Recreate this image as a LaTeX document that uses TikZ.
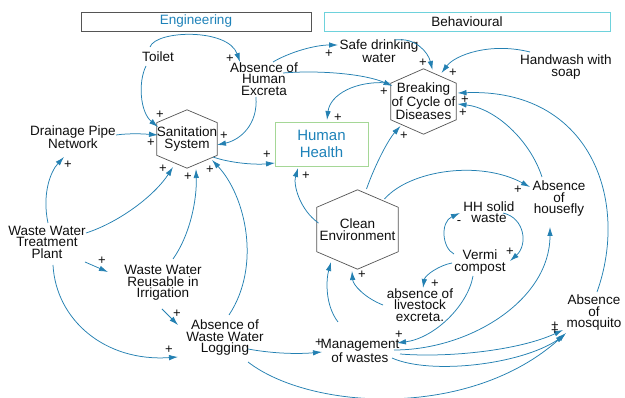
\documentclass[tikz,border=0pt]{standalone}
\usepackage{fontspec}
\setmainfont{Liberation Sans}
\usetikzlibrary{arrows.meta,calc}

\definecolor{linkblue}{RGB}{35,128,178}
\definecolor{hexgray}{RGB}{85,85,85}
\definecolor{engblue}{RGB}{30,130,185}
\definecolor{behcyan}{RGB}{110,210,220}
\definecolor{hhgreen}{RGB}{165,215,150}

\tikzset{
  lbl/.style={align=center, inner sep=0pt, text=black!94,
              font=\fontsize{13.5}{11.5}\selectfont},
  link/.style={draw=linkblue, line width=0.75pt,
               -{Latex[length=9pt,width=5.5pt,fill=linkblue]}},
  pol/.style={inner sep=0pt, text=black!94, font=\fontsize{13}{13}\selectfont},
  hexline/.style={draw=hexgray, line width=0.7pt},
}

% hexagon outline drawn around a rectangular node
\newcommand\hexoutline[1]{%
  \draw[hexline] (#1.north)
    -- ($(#1.north east)!0.22!(#1.south east)$)
    -- ($(#1.north east)!0.78!(#1.south east)$)
    -- (#1.south)
    -- ($(#1.north west)!0.78!(#1.south west)$)
    -- ($(#1.north west)!0.22!(#1.south west)$)
    -- cycle;}

\begin{document}
\begin{tikzpicture}[x=1pt,y=-1pt]
\useasboundingbox[fill=white] (0,0) rectangle (625,398);

% group headers
\node[lbl, draw=hexgray, line width=0.8pt, minimum width=230pt, minimum height=19pt, text=engblue] (eng) at (196,21.5) {Engineering};
\node[lbl, draw=behcyan, line width=0.8pt, minimum width=286pt, minimum height=19pt] (beh) at (467,21.5) {Behavioural};

% variables
\node[lbl] (toilet) at (158,57) {Toilet};
\node[lbl] (ahe) at (264,79) {Absence of\\Human\\Excreta};
\node[lbl] (safe) at (379,51) {Safe drinking\\water};
\node[lbl] (hand) at (566,67) {Handwash with\\soap};
\node[lbl, minimum width=65pt, minimum height=65pt] (bcd) at (423.5,101.5) {Breaking\\of Cycle of\\Diseases};
\node[lbl, draw=hhgreen, line width=0.8pt, minimum width=93pt, minimum height=44pt,
      font=\fontsize{15}{17}\selectfont, text=engblue] (hh) at (321.5,144) {Human\\Health};
\node[lbl, minimum width=60pt, minimum height=58pt] (san) at (187,139) {Sanitation\\System};
\node[lbl] (drain) at (73,137) {Drainage Pipe\\Network};
\node[lbl] (wwtp) at (47,242) {Waste Water\\Treatment\\Plant};
\node[lbl] (reuse) at (163,283) {Waste Water\\Reusable in\\Irrigation};
\node[lbl] (awwl) at (225,338) {Absence of\\Waste Water\\Logging};
\node[lbl] (mgmt) at (360,351) {Management\\of wastes};
\node[lbl] (live) at (420,305) {absence of\\livestock\\excreta.};
\node[lbl] (vermi) at (480,262) {Vermi\\compost};
\node[lbl] (hhsw) at (489,212) {HH solid\\waste};
\node[lbl] (fly) at (559,199) {Absence\\of\\housefly};
\node[lbl] (mosq) at (594,313) {Absence\\of\\mosquito};
\node[lbl, minimum width=81pt, minimum height=79pt] (clean) at (357.5,229.5) {Clean\\Environment};

\hexoutline{san}
\hexoutline{bcd}
\hexoutline{clean}

% causal links
\draw[link] ([shift={(-8,-10)}]toilet.center) .. controls (156,30) and (228,28) .. ([shift={(-24,-17)}]ahe.center);
\draw[link] ([shift={(-12,9)}]toilet.center) .. controls (138,82) and (140,112) .. ([shift={(-29,-12)}]san.center);
\draw[link] ([shift={(-8,18)}]ahe.center) .. controls (258,125) and (240,140) .. ([shift={(30,6)}]san.center);
\draw[link] ([shift={(9,-17)}]ahe.center) .. controls (290,52) and (315,45) .. ([shift={(-41,-6)}]safe.center);
\draw[link] ([shift={(19,-6)}]ahe.center) .. controls (320,70) and (365,74) .. ([shift={(-31,-15.5)}]bcd.center);
\draw[link] ([shift={(16,-11)}]safe.center) .. controls (415,37) and (428,52) .. ([shift={(9,-31.5)}]bcd.center);
\draw[link] ([shift={(-36,-15)}]hand.center) .. controls (490,42) and (455,55) .. ([shift={(18,-28.5)}]bcd.center);
\draw[link] ([shift={(-34,-18.5)}]bcd.center) .. controls (355,80) and (330,95) .. ([shift={(5.5,-24)}]hh.center);
\draw[link] ([shift={(-17,-22)}]fly.center) .. controls (530,140) and (495,108) .. ([shift={(34,2.5)}]bcd.center);
\draw[link] ([shift={(3,-21)}]mosq.center) .. controls (630,200) and (590,88) .. ([shift={(34,-8.5)}]bcd.center);
\draw[link] ([shift={(9,-40.5)}]clean.center) .. controls (375,165) and (388,140) .. ([shift={(-23,24.5)}]bcd.center);
\draw[link] ([shift={(-39,-6.5)}]clean.center) .. controls (300,210) and (293,185) .. ([shift={(-23.5,24)}]hh.center);
\draw[link] ([shift={(27,-30.5)}]clean.center) .. controls (410,170) and (480,160) .. ([shift={(-29,-12)}]fly.center);
\draw[link] ([shift={(26,18)}]san.center) .. controls (230,163) and (255,165) .. ([shift={(-46.5,19)}]hh.center);
\draw[link] ([shift={(43,-2)}]drain.center) .. controls (130,133) and (145,134) .. ([shift={(-29,-4)}]san.center);
\draw[link] ([shift={(1,-19)}]wwtp.center) .. controls (42,195) and (50,172) .. ([shift={(-9,20)}]drain.center);
\draw[link] ([shift={(39,-9)}]wwtp.center) .. controls (120,222) and (155,195) .. ([shift={(-14,28)}]san.center);
\draw[link] ([shift={(38,20)}]wwtp.center) -- ([shift={(-55,-11)}]reuse.center);
\draw[link] ([shift={(6,23)}]wwtp.center) .. controls (56,320) and (105,362) .. ([shift={(-47,19)}]awwl.center);
\draw[link] ([shift={(10,-24)}]reuse.center) .. controls (190,235) and (197,200) .. ([shift={(9,30)}]san.center);
\draw[link] ([shift={(-1,26)}]reuse.center) -- ([shift={(-47,-13)}]awwl.center);
\draw[link] ([shift={(4,-23)}]awwl.center) .. controls (262,265) and (245,195) .. ([shift={(25,21)}]san.center);
\draw[link] ([shift={(23,11)}]awwl.center) .. controls (275,354) and (300,354) .. ([shift={(-38,1)}]mgmt.center);
\draw[link] ([shift={(23,24)}]awwl.center) .. controls (310,410) and (470,420) .. ([shift={(-28,20)}]mosq.center);
\draw[link] ([shift={(-22,-29)}]mgmt.center) .. controls (325,305) and (326,280) .. ([shift={(-26.5,32.5)}]clean.center);
\draw[link] ([shift={(-37,0)}]live.center) .. controls (365,298) and (353,285) .. ([shift={(-5.5,41.5)}]clean.center);
\draw[link] ([shift={(-28,1)}]vermi.center) .. controls (440,265) and (425,275) .. ([shift={(3,-17)}]live.center);
\draw[link] ([shift={(-26,-8)}]vermi.center) .. controls (442,248) and (440,222) .. ([shift={(-29,1)}]hhsw.center);
\draw[link] ([shift={(14,1)}]hhsw.center) .. controls (525,218) and (528,245) .. ([shift={(30,-1)}]vermi.center);
\draw[link] ([shift={(-7,14)}]vermi.center) .. controls (468,305) and (435,338) .. ([shift={(37,-8)}]mgmt.center);
\draw[link] ([shift={(34,-1)}]mgmt.center) .. controls (470,350) and (550,300) .. ([shift={(-9,28)}]fly.center);
\draw[link] ([shift={(40,3)}]mgmt.center) .. controls (450,358) and (520,350) .. ([shift={(-31,17)}]mosq.center);
\draw[link] ([shift={(32,7)}]mgmt.center) .. controls (430,375) and (520,365) .. ([shift={(-29,22)}]mosq.center);

% link polarities
\node[pol] (p1) at (230,59) {+};
\node[pol] (p2) at (160,115) {+};
\node[pol] (p3) at (224,136) {+};
\node[pol] (p4) at (329,54) {+};
\node[pol] (p5) at (384,92) {+};
\node[pol] (p6) at (423,63) {+};
\node[pol] (p7) at (453,73) {+};
\node[pol] (p8) at (338,118) {+};
\node[pol] (p9) at (463,113) {+};
\node[pol] (p10) at (465,100) {+};
\node[pol] (p11) at (404,136) {+};
\node[pol] (p12) at (306,176) {+};
\node[pol] (p13) at (518,190) {+};
\node[pol] (p14) at (267,155) {+};
\node[pol] (p15) at (151,143) {+};
\node[pol] (p16) at (68,165) {+};
\node[pol] (p17) at (163,169) {+};
\node[pol] (p18) at (102,261) {+};
\node[pol] (p19) at (169,350) {+};
\node[pol] (p20) at (188,177) {+};
\node[pol] (p21) at (177,314) {+};
\node[pol] (p22) at (210,170) {+};
\node[pol] (p23) at (319,343) {+};
\node[pol] (p24) at (362,275) {+};
\node[pol] (p25) at (435,284) {+};
\node[pol] (m26) at (459,223) {-};
\node[pol] (p27) at (510,252) {+};
\node[pol] (p28) at (399,335) {+};
\node[pol] (p29) at (555,326) {+};
\node[pol] (p30) at (555,331) {+};
\end{tikzpicture}
\end{document}
